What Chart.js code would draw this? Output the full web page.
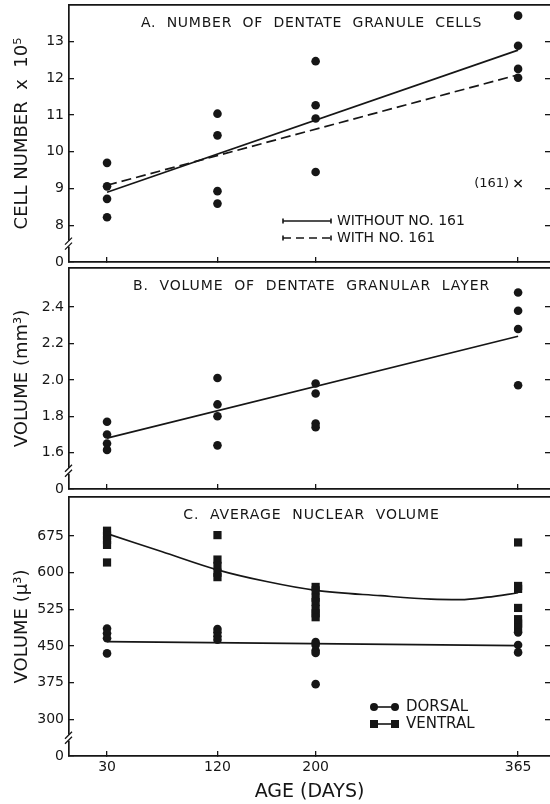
<!DOCTYPE html>
<html>
<head>
<meta charset="utf-8">
<script src="https://cdn.jsdelivr.net/npm/chart.js@4.4.0/dist/chart.umd.min.js"></script>
<style>
  body { margin: 0; background: #fff; }
  #wrap { position: relative; width: 550px; height: 804px; }
  canvas { position: absolute; left: 0; }
</style>
</head>
<body>
<div id="wrap">
  <canvas id="cellsChart" width="550" height="266" style="top:0"></canvas>
  <canvas id="volumeChart" width="550" height="229" style="top:264px"></canvas>
  <canvas id="nuclearChart" width="550" height="311" style="top:493px"></canvas>
</div>
<script>
// Ages sampled (days)
const ages = [30, 120, 200, 365];

// A. Number of dentate granule cells (x 10^5)
const cellAges = [30, 30, 30, 30, 120, 120, 120, 120, 200, 200, 200, 200, 365, 365, 365, 365];
const cellValues = [9.70, 9.06, 8.72, 8.22, 11.04, 10.45, 8.93, 8.59, 12.47, 11.27, 10.91, 9.45, 13.71, 12.89, 12.26, 12.02];
const fitAges = [30, 365];
const fitWithout161 = [8.90, 12.77];
const fitWith161 = [9.09, 12.10];
const outlierAge = [365];
const outlierValue = [9.14];
const cellTicks = [7, 8, 9, 10, 11, 12, 13];

// B. Volume of dentate granular layer (mm3)
const volumeAges = [30, 30, 30, 30, 120, 120, 120, 120, 200, 200, 200, 200, 365, 365, 365, 365];
const volumeValues = [1.77, 1.70, 1.65, 1.615, 2.01, 1.865, 1.80, 1.64, 1.98, 1.925, 1.76, 1.74, 2.48, 2.38, 2.28, 1.97];
const volumeFit = [1.68, 2.24];
const volumeTicks = [1.4, 1.6, 1.8, 2.0, 2.2, 2.4];

// C. Average nuclear volume (u3)
const dorsalAges = [30, 30, 30, 30, 120, 120, 120, 120, 200, 200, 200, 200, 200, 365, 365, 365];
const dorsalValues = [486, 476, 466, 435, 485, 478, 470, 463, 458, 452, 441, 436, 372, 478, 452, 437];
const ventralAges = [30, 30, 30, 30, 30, 120, 120, 120, 120, 120, 200, 200, 200, 200, 200, 200, 200, 365, 365, 365, 365, 365, 365, 365];
const ventralValues = [686, 676, 667, 657, 621, 677, 627, 614, 600, 591, 571, 564, 549, 540, 526, 517, 509, 662, 573, 567, 528, 505, 496, 488];
const dorsalFit = [459, 451];
const ventralCurveAges = [30, 75, 120, 160, 200, 253, 294, 318, 340, 365];
const ventralCurve = [680, 643, 606, 582, 564, 553, 546, 545, 550, 559];
const nuclearTicks = [225, 300, 375, 450, 525, 600, 675];

const INK = '#161616';
const FONT = '"DejaVu Sans", sans-serif';

const pts = (xs, ys) => xs.map((x, i) => ({ x: x, y: ys[i] }));

// keep chart areas exactly where the scales put them
function noPad(s) {
    s.paddingTop = 0; s.paddingBottom = 0; s.paddingLeft = 0; s.paddingRight = 0;
}

function xScale(showLabels) {
    return {
        type: 'linear', position: 'bottom', min: -1, max: 391,
        afterBuildTicks: s => { s.ticks = ages.map(v => ({ value: v })); },
        afterFit: s => { s.height = showLabels ? 48 : 4; noPad(s); },
        ticks: { display: showLabels, padding: 8, color: INK, font: { family: FONT, size: 14 }, callback: v => v },
        grid: { drawOnChartArea: false, tickLength: -5, color: INK, lineWidth: 1.3 },
        border: { color: INK, width: 1.7 },
        title: { display: showLabels, text: 'AGE (DAYS)', color: INK, font: { family: FONT, size: 19 }, padding: { top: 0, bottom: 1 } }
    };
}

function topScale() {
    return {
        type: 'linear', position: 'top', min: -1, max: 391,
        afterFit: s => { s.height = 0; noPad(s); },
        ticks: { display: false },
        grid: { drawOnChartArea: false, drawTicks: false },
        border: { color: INK, width: 1.7 }
    };
}

function yScale(min, max, ticks, label, title) {
    return {
        type: 'linear', position: 'left', min: min, max: max,
        afterBuildTicks: s => { s.ticks = ticks.map(v => ({ value: v })); },
        afterFit: s => { s.width = 69; noPad(s); },
        ticks: { padding: 10, color: INK, font: { family: FONT, size: 14 }, callback: label },
        grid: { drawOnChartArea: false, tickLength: -5, color: INK, lineWidth: 1.3 },
        border: { color: INK, width: 1.7 },
        title: { display: true, text: title, color: INK, font: { family: FONT, size: 18 }, padding: { top: 12, bottom: 0 } }
    };
}

function rightScale(min, max, ticks) {
    return {
        type: 'linear', position: 'right', min: min, max: max,
        afterBuildTicks: s => { s.ticks = ticks.slice(1).map(v => ({ value: v })); },
        afterFit: s => { s.width = 0; noPad(s); },
        ticks: { display: false },
        grid: { drawOnChartArea: false, tickLength: -5, color: INK, lineWidth: 1.3 },
        border: { display: false }
    };
}

// panel title, axis break and hand-placed legends
const decor = {
    id: 'decor',
    afterDraw(chart, args, opts) {
        const { ctx, chartArea: a, scales } = chart;
        ctx.save();
        ctx.fillStyle = INK;
        ctx.strokeStyle = INK;
        ctx.font = '14px ' + FONT;
        ctx.letterSpacing = opts.spacing;
        ctx.textAlign = 'center';
        ctx.textBaseline = 'middle';
        ctx.fillText(opts.title, (a.left + a.right) / 2 + 2, a.top + 18);
        ctx.letterSpacing = '0px';

        const yb = scales.y.getPixelForValue(opts.breakValue);
        ctx.fillStyle = '#fff';
        ctx.fillRect(a.left - 3, yb - 3, 6, 6);
        ctx.fillStyle = INK;
        ctx.lineWidth = 1.3;
        ctx.beginPath();
        ctx.moveTo(a.left - 4, yb + 1); ctx.lineTo(a.left + 3, yb - 6);
        ctx.moveTo(a.left - 4, yb + 6); ctx.lineTo(a.left + 3, yb - 1);
        ctx.stroke();

        if (opts.extra) opts.extra(chart, ctx, a);
        ctx.restore();
    }
};

function cellLegend(chart, ctx, a) {
    const x0 = a.left + 214, x1 = a.left + 262;
    const rows = [[a.top + 216, [], 'WITHOUT NO. 161'], [a.top + 233, [8, 5], 'WITH NO. 161']];
    ctx.lineWidth = 1.6;
    rows.forEach(r => {
        ctx.setLineDash(r[1]);
        ctx.beginPath(); ctx.moveTo(x0, r[0]); ctx.lineTo(x1, r[0]); ctx.stroke();
        ctx.setLineDash([]);
        ctx.beginPath();
        ctx.moveTo(x0, r[0] - 2.5); ctx.lineTo(x0, r[0] + 2.5);
        ctx.moveTo(x1, r[0] - 2.5); ctx.lineTo(x1, r[0] + 2.5);
        ctx.stroke();
        ctx.font = '14px ' + FONT;
        ctx.textAlign = 'left';
        ctx.textBaseline = 'middle';
        ctx.fillText(r[2], x1 + 6, r[0]);
    });
    // label of the outlier
    const px = chart.scales.x.getPixelForValue(outlierAge[0]);
    const py = chart.scales.y.getPixelForValue(outlierValue[0]);
    ctx.font = '13px ' + FONT;
    ctx.textAlign = 'right';
    ctx.fillText('(161)', px - 9, py);
}

function nuclearLegend(chart, ctx, a) {
    const x0 = a.left + 305, x1 = a.left + 326;
    const rows = [[a.top + 210, 'circle', 'DORSAL'], [a.top + 227, 'rect', 'VENTRAL']];
    ctx.lineWidth = 1.6;
    rows.forEach(r => {
        ctx.beginPath(); ctx.moveTo(x0, r[0]); ctx.lineTo(x1, r[0]); ctx.stroke();
        [x0, x1].forEach(x => {
            ctx.beginPath();
            if (r[1] === 'circle') ctx.arc(x, r[0], 4, 0, Math.PI * 2);
            else ctx.rect(x - 4, r[0] - 4, 8, 8);
            ctx.fill();
        });
        ctx.font = '15px ' + FONT;
        ctx.textAlign = 'left';
        ctx.textBaseline = 'middle';
        ctx.fillText(r[2], x1 + 11, r[0]);
    });
}

const baseOptions = (padTop, scales, decorOpts) => ({
    responsive: false,
    animation: false,
    devicePixelRatio: 1,
    layout: { autoPadding: false, padding: { top: padTop, left: 0, right: 0, bottom: 0 } },
    scales: scales,
    plugins: { legend: { display: false }, tooltip: { enabled: false }, decor: decorOpts }
});

const dots = (data, style, r) => ({
    data: data, showLine: false, pointStyle: style, pointRadius: r,
    pointBackgroundColor: INK, pointBorderWidth: 0
});
const fitLine = (data, dash, extra) => Object.assign({
    data: data, showLine: true, pointRadius: 0, borderColor: INK, borderWidth: 1.7, borderDash: dash
}, extra || {});

// A
new Chart(document.getElementById('cellsChart').getContext('2d'), {
    type: 'scatter',
    data: {
        datasets: [
            dots(pts(cellAges, cellValues), 'circle', 4.3),
            fitLine(pts(fitAges, fitWithout161), []),
            fitLine(pts(fitAges, fitWith161), [10, 5]),
            { data: pts(outlierAge, outlierValue), showLine: false, pointStyle: 'crossRot', pointRadius: 5, borderColor: INK, borderWidth: 1.4 }
        ]
    },
    options: baseOptions(5, {
        x: xScale(false), xTop: topScale(),
        y: yScale(7, 14, cellTicks, v => v === 7 ? '0' : v, 'CELL NUMBER  x  10\u2075'),
        yRight: rightScale(7, 14, cellTicks)
    }, { title: 'A.  NUMBER  OF  DENTATE  GRANULE  CELLS', spacing: '0.75px', breakValue: 7.5, extra: cellLegend }),
    plugins: [decor]
});

// B
new Chart(document.getElementById('volumeChart').getContext('2d'), {
    type: 'scatter',
    data: {
        datasets: [
            dots(pts(volumeAges, volumeValues), 'circle', 4.3),
            fitLine(pts(fitAges, volumeFit), [])
        ]
    },
    options: baseOptions(4, {
        x: xScale(false), xTop: topScale(),
        y: yScale(1.4, 2.615, volumeTicks, v => Math.abs(v - 1.4) < 1e-6 ? '0' : v.toFixed(1), 'VOLUME (mm\u00b3)'),
        yRight: rightScale(1.4, 2.615, volumeTicks)
    }, { title: 'B.  VOLUME  OF  DENTATE  GRANULAR  LAYER', spacing: '0.9px', breakValue: 1.5 }),
    plugins: [decor]
});

// C
new Chart(document.getElementById('nuclearChart').getContext('2d'), {
    type: 'scatter',
    data: {
        datasets: [
            dots(pts(dorsalAges, dorsalValues), 'circle', 4.3),
            dots(pts(ventralAges, ventralValues), 'rect', 5.8),
            fitLine(pts(fitAges, dorsalFit), []),
            fitLine(pts(ventralCurveAges, ventralCurve), [], { cubicInterpolationMode: 'monotone' })
        ]
    },
    options: baseOptions(4, {
        x: xScale(true), xTop: topScale(),
        y: yScale(225, 755, nuclearTicks, v => v === 225 ? '0' : v, 'VOLUME (\u00b5\u00b3)'),
        yRight: rightScale(225, 755, nuclearTicks)
    }, { title: 'C.  AVERAGE  NUCLEAR  VOLUME', spacing: '0.9px', breakValue: 262.5, extra: nuclearLegend }),
    plugins: [decor]
});
</script>
</body>
</html>
